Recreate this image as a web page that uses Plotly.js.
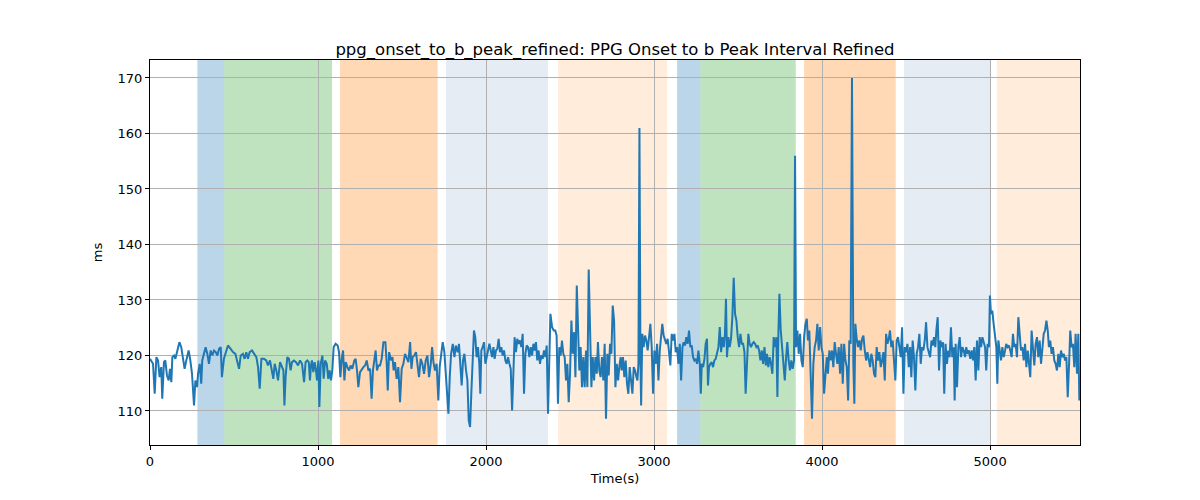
<!DOCTYPE html>
<html>
<head>
<meta charset="utf-8">
<script src="https://cdn.plot.ly/plotly-3.0.1.min.js"></script>
<style>
  body { margin: 0; background: #fff; }
  #chart { width: 1200px; height: 500px; }
</style>
</head>
<body>
<div id="chart"></div>
<script>
// time (s) and interval (ms)
let t = [
  0, 18, 28, 38, 48, 57, 67, 73, 83, 91, 101, 111, 119, 127, 133, 143, 151, 163, 175, 186,
  196, 206, 216, 230, 240, 250, 262, 270, 280, 286, 296, 305, 311, 321, 331, 341, 351, 361, 371, 381,
  391, 401, 411, 421, 428, 440, 450, 464, 480, 494, 508, 520, 530, 540, 553, 563, 573, 583, 593, 607,
  619, 633, 643, 653, 663, 678, 692, 702, 714, 726, 734, 742, 752, 762, 774, 786, 794, 800, 807, 817,
  827, 837, 845, 857, 869, 881, 893, 905, 917, 926, 936,
  945, 952, 958, 964, 972, 980, 988, 994, 1002, 1008, 1016, 1026, 1034, 1042, 1052, 1061, 1069, 1077, 1085, 1093,
  1105, 1117, 1125, 1133, 1141, 1149, 1157, 1165, 1175, 1185, 1194, 1204, 1216, 1224, 1232, 1240, 1250, 1260, 1270, 1280,
  1290, 1300, 1310, 1319, 1327, 1335, 1343, 1351, 1359, 1369, 1379, 1389, 1401, 1409, 1415, 1423, 1435, 1443, 1450, 1458,
  1468, 1478, 1488, 1498, 1508, 1518, 1528, 1538, 1548, 1556, 1563, 1573, 1583, 1593, 1601, 1611, 1621, 1631, 1641, 1651,
  1661, 1671, 1679, 1687, 1696, 1706, 1716, 1724, 1732, 1742, 1752, 1760, 1768, 1776, 1784, 1792, 1802, 1812, 1820, 1831,
  1839, 1847, 1855, 1863, 1871,
  1881, 1889, 1897, 1905, 1913, 1920, 1928, 1936, 1944, 1952, 1960, 1966, 1972, 1980, 1988, 1996, 2004, 2012, 2020, 2028,
  2036, 2044, 2051, 2059, 2067, 2075, 2083, 2091, 2099, 2107, 2115, 2123, 2131, 2139, 2147, 2155, 2163, 2170, 2178, 2186,
  2194, 2202, 2210, 2218, 2226, 2234, 2242, 2250, 2258, 2266, 2274, 2282, 2290, 2297, 2305, 2313, 2321, 2329, 2337, 2345,
  2353, 2361, 2369, 2377, 2383, 2393, 2403, 2412, 2420, 2428, 2436, 2444, 2452, 2460, 2468, 2476, 2484, 2492, 2500, 2508,
  2516, 2524, 2532, 2540, 2547, 2555, 2563, 2571, 2579, 2587, 2595, 2603, 2611, 2619, 2627, 2635, 2643, 2651, 2659, 2666,
  2674, 2682, 2690, 2698, 2706, 2714, 2722, 2730, 2738, 2746, 2754, 2762, 2770, 2778, 2786, 2793, 2801,
  2807, 2815, 2823, 2831, 2839, 2847, 2855, 2863, 2871, 2879, 2887, 2895, 2901, 2907, 2913, 2919, 2923, 2930, 2938, 2946,
  2954, 2962, 2970, 2978, 2986, 2994, 3002, 3010, 3018, 3026, 3034, 3042, 3049, 3057, 3065, 3073, 3081, 3089, 3097, 3105,
  3113, 3121, 3129, 3137, 3145, 3153, 3161, 3169, 3176, 3184, 3192, 3200, 3208, 3216, 3224, 3232, 3240, 3248, 3256, 3264,
  3272, 3278, 3284, 3292, 3300, 3307, 3315, 3321, 3327, 3335, 3343, 3351, 3359, 3367, 3375, 3383, 3391, 3399, 3407, 3415,
  3422, 3428, 3434, 3442, 3450, 3458, 3466, 3474, 3482, 3490, 3498, 3506, 3514, 3522, 3530, 3538, 3545, 3553, 3561, 3569,
  3577, 3585, 3593, 3601, 3609, 3617, 3625, 3633, 3641, 3649, 3657, 3665, 3672, 3680, 3688, 3696, 3704, 3712, 3720, 3728,
  3734, 3740, 3746, 3754, 3762, 3770, 3778, 3786, 3793, 3801, 3809, 3817, 3825, 3833, 3839, 3845, 3853, 3861, 3869, 3877,
  3885, 3893, 3901, 3909, 3916, 3924, 3932, 3940, 3948, 3956, 3964, 3972, 3980, 3988, 3996, 4004, 4012, 4020, 4028, 4035,
  4043, 4051, 4059, 4067, 4075, 4083, 4091, 4099, 4107, 4115, 4123, 4131, 4139, 4147, 4155, 4162, 4170, 4178, 4186, 4192,
  4198, 4206, 4214, 4222, 4230, 4238, 4246, 4254, 4262, 4270, 4278, 4286, 4293, 4301, 4309, 4317, 4325, 4333, 4341, 4349,
  4357, 4365, 4373, 4381, 4389, 4397, 4404, 4412, 4420, 4428, 4436, 4444, 4452, 4460, 4468, 4476, 4484, 4492, 4500, 4508,
  4516, 4524, 4531, 4539, 4547, 4555, 4563, 4571, 4579, 4587, 4595, 4603, 4611, 4619, 4627, 4635, 4643, 4651, 4659, 4666,
  4674, 4680, 4688, 4696, 4704, 4712, 4720, 4727, 4735, 4743, 4751, 4759, 4767, 4775, 4783, 4789, 4795, 4803, 4811, 4819,
  4827, 4835, 4843, 4851, 4858, 4866, 4874, 4882, 4890, 4898, 4906, 4914, 4922, 4930, 4938, 4946, 4954, 4962, 4970, 4977,
  4985, 4993, 4999, 5005, 5013, 5021, 5029, 5037, 5043, 5049, 5057, 5065, 5073, 5081, 5089, 5096, 5104, 5112, 5120, 5128,
  5136, 5144, 5152, 5160, 5168, 5176, 5184, 5192, 5200, 5208, 5216, 5224, 5231, 5239, 5247, 5255, 5263, 5271, 5279, 5287,
  5295, 5303, 5311, 5319, 5327, 5335, 5343, 5350, 5358, 5366, 5374, 5382, 5390, 5398, 5406, 5414, 5422, 5430, 5438, 5446,
  5454, 5462, 5470, 5477, 5485, 5493, 5501, 5509, 5517, 5525, 5531
];
let ms = [
  119.4, 118.5, 113.1, 119.7, 119.1, 116.1, 117.9, 112.2, 118.8, 119.1, 116.4, 115.5, 117.6, 115.2, 119.7, 120.0, 119.4, 120.9, 122.4, 121.5,
  119.4, 117.6, 119.1, 120.9, 119.1, 116.7, 111.0, 115.5, 114.3, 116.7, 118.5, 114.9, 119.1, 120.6, 121.5, 120.3, 118.5, 120.9, 120.0, 120.9,
  120.6, 120.0, 121.2, 121.5, 116.1, 119.4, 120.6, 121.8, 121.2, 120.6, 120.3, 118.8, 117.6, 120.0, 120.3, 119.4, 120.6, 119.4, 120.6, 120.9,
  120.3, 119.7, 117.9, 114.0, 119.4, 119.4, 119.1, 118.2, 119.1, 116.7, 115.8, 118.5, 117.3, 115.5, 118.8, 117.9, 117.3, 111.0, 116.1, 119.7,
  119.4, 117.3, 118.8, 119.1, 118.8, 118.2, 119.1, 118.5, 115.2, 118.8, 119.1,
  118.8, 115.5, 118.2, 119.1, 117.0, 118.8, 117.3, 115.5, 119.1, 110.7, 118.5, 120.0, 115.8, 119.1, 118.5, 115.8, 117.3, 115.5, 117.3, 121.5,
  122.1, 121.8, 120.6, 116.1, 119.4, 120.9, 115.5, 118.8, 117.9, 117.3, 118.2, 117.6, 119.1, 119.4, 117.3, 114.3, 117.0, 117.6, 117.9, 118.2,
  119.1, 117.3, 117.6, 112.2, 117.3, 119.1, 120.9, 117.3, 118.2, 118.2, 119.4, 122.4, 122.4, 118.5, 113.7, 120.6, 119.1, 119.7, 117.3, 118.8,
  115.8, 117.9, 111.6, 117.6, 118.5, 120.3, 119.4, 118.8, 122.4, 117.6, 119.7, 120.0, 120.6, 117.3, 116.1, 119.4, 118.5, 116.7, 119.1, 120.0,
  116.1, 118.5, 121.5, 118.8, 117.3, 118.5, 111.9, 117.9, 120.0, 122.4, 120.6, 117.3, 114.3, 109.5, 116.1, 120.3, 122.1, 119.7, 121.8, 120.6,
  122.1, 117.3, 114.6, 119.1, 120.3,
  117.3, 115.5, 108.3, 107.1, 113.7, 119.7, 124.5, 123.3, 119.7, 121.5, 118.5, 113.1, 120.9, 121.5, 122.4, 118.5, 119.7, 120.6, 122.1, 120.9,
  119.7, 121.5, 119.4, 120.9, 121.2, 123.0, 120.6, 121.5, 120.0, 120.9, 119.1, 118.5, 119.7, 118.5, 117.6, 110.1, 118.8, 123.3, 120.6, 123.0,
  122.1, 122.7, 121.5, 123.9, 113.1, 120.3, 121.8, 121.5, 119.7, 121.5, 120.0, 122.1, 120.9, 122.4, 119.1, 120.9, 118.5, 120.0, 119.4, 120.9,
  119.7, 121.8, 109.5, 121.5, 127.5, 125.1, 124.5, 124.5, 123.6, 111.3, 121.5, 120.0, 122.7, 120.3, 119.7, 115.5, 118.5, 111.6, 116.7, 126.3,
  120.3, 124.2, 116.1, 132.6, 123.3, 117.3, 121.5, 114.3, 119.7, 114.3, 120.9, 114.3, 135.5, 124.2, 114.3, 119.7, 115.5, 119.7, 116.7, 122.4,
  117.3, 116.1, 119.7, 115.5, 122.1, 108.6, 120.3, 116.4, 122.1, 120.3, 129.0, 126.3, 114.3, 118.5, 115.5, 117.9, 119.7,
  117.3, 119.7, 116.1, 119.1, 114.9, 113.1, 117.9, 115.5, 113.1, 117.9, 117.3, 116.1, 115.5, 118.5, 161.0, 118.5, 111.0, 123.9, 121.5, 123.6,
  122.7, 120.9, 124.2, 125.7, 121.5, 113.1, 120.9, 118.5, 122.1, 115.5, 120.9, 124.5, 125.7, 123.6, 123.0, 122.1, 123.0, 120.3, 118.2, 123.9,
  122.7, 123.9, 120.6, 121.5, 118.5, 122.1, 115.5, 121.5, 122.4, 121.8, 123.3, 122.1, 124.5, 121.5, 121.8, 119.7, 119.1, 119.4, 118.5, 120.9,
  118.5, 113.1, 118.5, 117.9, 119.4, 122.1, 123.0, 114.6, 117.9, 118.5, 118.8, 117.9, 119.1, 119.4, 120.6, 121.5, 125.1, 120.6, 123.3, 121.5,
  123.9, 130.2, 119.7, 123.3, 121.5, 123.0, 126.9, 134.0, 127.5, 126.3, 123.3, 121.5, 123.9, 122.1, 122.1, 120.6, 113.1, 120.3, 123.9, 122.1,
  121.5, 122.1, 122.4, 122.1, 121.5, 121.8, 120.9, 119.1, 120.9, 118.5, 121.5, 118.2, 120.3, 117.9, 119.7, 118.5, 116.7, 123.3, 121.5, 123.3,
  112.5, 123.9, 131.1, 124.5, 121.5, 119.1, 115.5, 119.7, 122.4, 119.1, 117.3, 119.1, 117.6, 119.1, 156.0, 121.5, 124.5, 120.3, 123.9, 119.1,
  117.9, 123.3, 125.7, 126.6, 122.7, 124.5, 114.9, 108.6, 118.5, 121.5, 122.7, 125.7, 120.9, 125.1, 121.5, 120.3, 113.1, 116.7, 119.7, 116.7,
  120.9, 119.1, 120.9, 117.9, 122.4, 120.3, 118.5, 121.5, 116.7, 122.1, 114.9, 122.1, 119.1, 117.9, 111.9, 122.7, 122.1, 170.0, 118.5, 111.3,
  125.7, 123.0, 121.5, 122.7, 120.9, 123.0, 123.6, 120.9, 119.1, 120.6, 118.8, 117.9, 120.3, 119.1, 116.7, 116.1, 121.5, 119.1, 120.6, 117.9,
  119.1, 120.6, 115.5, 123.9, 122.1, 123.0, 124.5, 121.5, 122.7, 117.9, 115.5, 122.7, 123.3, 121.5, 119.7, 125.1, 113.1, 121.5, 120.6, 122.1,
  117.9, 121.5, 116.1, 122.7, 119.7, 113.7, 120.3, 121.5, 123.9, 118.5, 121.5, 120.9, 122.7, 126.0, 121.5, 120.6, 119.7, 122.7, 121.8, 123.3,
  121.5, 124.5, 126.9, 117.3, 122.7, 121.5, 122.4, 113.1, 122.1, 118.5, 120.9, 119.7, 125.1, 119.7, 121.5, 111.9, 122.1, 114.3, 121.5, 123.3,
  119.7, 121.5, 120.9, 119.7, 121.5, 120.3, 120.9, 119.4, 120.9, 119.1, 121.5, 115.5, 122.7, 117.3, 123.3, 121.5, 123.3, 122.4, 121.5, 117.3,
  122.1, 121.5, 130.8, 127.5, 128.1, 125.7, 123.9, 121.5, 114.9, 122.7, 120.9, 119.1, 121.5, 119.7, 120.9, 122.1, 121.5, 121.8, 120.9, 119.7,
  123.9, 121.5, 122.1, 119.7, 126.9, 124.5, 120.9, 121.5, 119.1, 122.1, 117.9, 120.9, 119.1, 116.1, 124.5, 120.9, 118.2, 122.1, 123.3, 119.7,
  122.7, 118.5, 121.5, 123.9, 124.5, 126.3, 124.5, 121.5, 122.7, 120.3, 121.5, 119.1, 118.5, 117.3, 120.3, 117.9, 120.9, 119.7, 120.3, 119.1,
  119.7, 112.5, 118.5, 124.5, 121.5, 122.1, 117.9, 123.9, 116.7, 123.9, 111.9
];

// shaded segments (start s, end s, fill)
let bandStart = [282, 442, 1131, 1762, 2429, 3137, 3276, 3893, 4488, 5040];
let bandEnd = [442, 1083, 1712, 2369, 3077, 3276, 3843, 4438, 5004, 5540];
let bandColor = [
  'rgba(31,119,180,0.3)', 'rgba(44,160,44,0.3)', 'rgba(255,127,14,0.3)', 'rgba(176,196,222,0.33)', 'rgba(255,127,14,0.15)',
  'rgba(31,119,180,0.3)', 'rgba(44,160,44,0.3)', 'rgba(255,127,14,0.3)', 'rgba(176,196,222,0.33)', 'rgba(255,127,14,0.15)'
];

let shapes = bandStart.map(function (s, i) {
  return {
    type: 'rect', xref: 'x', yref: 'paper', layer: 'below',
    x0: s, x1: bandEnd[i], y0: 0, y1: 1,
    fillcolor: bandColor[i],
    line: { width: 0 }
  };
});

let trace1 = {
  x: t,
  y: ms,
  mode: 'lines',
  line: { color: '#1f77b4', width: 2 },
  hoverinfo: 'x+y'
};

let axisStyle = {
  showline: true, mirror: true, linecolor: '#000', linewidth: 1,
  ticks: 'outside', ticklen: 4, tickcolor: '#000',
  showgrid: true, gridcolor: '#b0b0b0', gridwidth: 1,
  zeroline: false,
  tickfont: { family: 'DejaVu Sans', size: 13, color: '#000' }
};

let layout = {
  width: 1200, height: 500,
  margin: { l: 150, r: 120, t: 60, b: 55 },
  paper_bgcolor: '#fff', plot_bgcolor: 'rgba(0,0,0,0)',
  showlegend: false,
  font: { family: 'DejaVu Sans', color: '#000' },
  title: {
    text: 'ppg_onset_to_b_peak_refined: PPG Onset to b Peak Interval Refined',
    font: { family: 'DejaVu Sans', size: 16.5, color: '#000' },
    x: 0.5, xref: 'paper', y: 1, yref: 'paper', yanchor: 'bottom',
    pad: { b: 5 }
  },
  xaxis: Object.assign({}, axisStyle, {
    range: [0, 5535],
    tickvals: [0, 1000, 2000, 3000, 4000, 5000],
    title: { text: 'Time(s)', font: { family: 'DejaVu Sans', size: 13 }, standoff: 6 }
  }),
  yaxis: Object.assign({}, axisStyle, {
    range: [103.87, 173.24],
    tickvals: [110, 120, 130, 140, 150, 160, 170],
    title: { text: 'ms', font: { family: 'DejaVu Sans', size: 13 }, standoff: 12 }
  }),
  shapes: shapes
};

let data = [trace1];

Plotly.newPlot('chart', data, layout, { displayModeBar: false, staticPlot: true });
</script>
</body>
</html>
